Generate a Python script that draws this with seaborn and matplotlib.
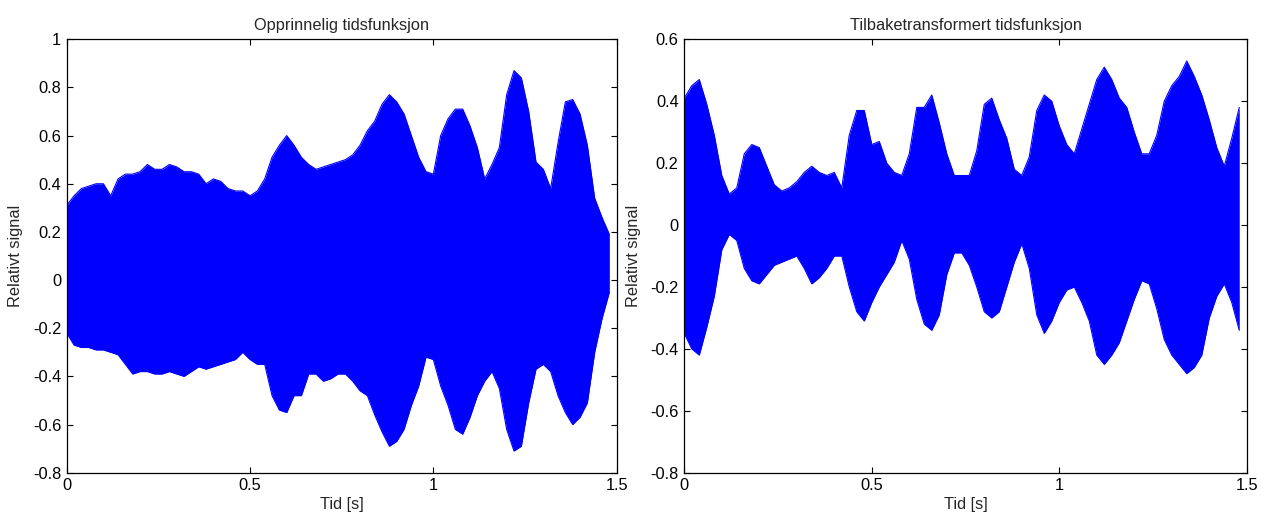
import matplotlib
matplotlib.use("Agg")
import matplotlib.pyplot as plt
import numpy as np
import pandas as pd
import seaborn as sns

# Envelope of the two signals, every 0.02 s (0 .. 1.48 s).
time_s = np.round(np.arange(75) * 0.02, 2)

orig_upper = [0.31, 0.35, 0.38, 0.39, 0.40, 0.40, 0.35, 0.42, 0.44, 0.44,
              0.45, 0.48, 0.46, 0.46, 0.48, 0.47, 0.45, 0.45, 0.44, 0.40,
              0.42, 0.41, 0.38, 0.37, 0.37, 0.35, 0.37, 0.42, 0.51, 0.56,
              0.60, 0.56, 0.51, 0.48, 0.46, 0.47, 0.48, 0.49, 0.50, 0.52,
              0.56, 0.62, 0.66, 0.73, 0.77, 0.74, 0.69, 0.60, 0.51, 0.45,
              0.44, 0.60, 0.67, 0.71, 0.71, 0.64, 0.55, 0.42, 0.48, 0.55,
              0.77, 0.87, 0.84, 0.70, 0.49, 0.46, 0.38, 0.57, 0.74, 0.75,
              0.69, 0.56, 0.34, 0.26, 0.19]
orig_lower = [-0.22, -0.27, -0.28, -0.28, -0.29, -0.29, -0.30, -0.31, -0.35, -0.39,
              -0.38, -0.38, -0.39, -0.39, -0.38, -0.39, -0.40, -0.38, -0.36, -0.37,
              -0.36, -0.35, -0.34, -0.33, -0.30, -0.33, -0.35, -0.35, -0.48, -0.54,
              -0.55, -0.48, -0.48, -0.39, -0.39, -0.42, -0.41, -0.39, -0.39, -0.42,
              -0.46, -0.48, -0.56, -0.63, -0.69, -0.67, -0.62, -0.52, -0.44, -0.32,
              -0.33, -0.44, -0.52, -0.62, -0.64, -0.57, -0.48, -0.42, -0.38, -0.45,
              -0.62, -0.71, -0.69, -0.51, -0.37, -0.35, -0.38, -0.48, -0.55, -0.60,
              -0.57, -0.51, -0.30, -0.16, -0.05]

back_upper = [0.41, 0.45, 0.47, 0.39, 0.29, 0.16, 0.10, 0.12, 0.23, 0.26,
              0.25, 0.19, 0.13, 0.11, 0.12, 0.14, 0.17, 0.19, 0.17, 0.16,
              0.17, 0.12, 0.29, 0.37, 0.37, 0.26, 0.27, 0.20, 0.17, 0.16,
              0.23, 0.38, 0.38, 0.42, 0.33, 0.23, 0.16, 0.16, 0.16, 0.24,
              0.39, 0.41, 0.34, 0.28, 0.18, 0.16, 0.22, 0.37, 0.42, 0.40,
              0.32, 0.26, 0.23, 0.31, 0.39, 0.47, 0.51, 0.47, 0.41, 0.38,
              0.30, 0.23, 0.23, 0.29, 0.40, 0.45, 0.48, 0.53, 0.48, 0.42,
              0.34, 0.25, 0.19, 0.28, 0.38]
back_lower = [-0.35, -0.40, -0.42, -0.33, -0.23, -0.08, -0.03, -0.05, -0.14, -0.18,
              -0.19, -0.16, -0.13, -0.12, -0.11, -0.10, -0.14, -0.19, -0.17, -0.14,
              -0.10, -0.10, -0.20, -0.28, -0.31, -0.25, -0.20, -0.16, -0.12, -0.05,
              -0.11, -0.24, -0.32, -0.34, -0.29, -0.16, -0.09, -0.09, -0.13, -0.20,
              -0.28, -0.30, -0.28, -0.20, -0.12, -0.06, -0.14, -0.29, -0.35, -0.31,
              -0.25, -0.21, -0.20, -0.25, -0.31, -0.42, -0.45, -0.42, -0.38, -0.31,
              -0.24, -0.18, -0.19, -0.27, -0.37, -0.42, -0.45, -0.48, -0.46, -0.42,
              -0.30, -0.23, -0.19, -0.25, -0.34]

titles = ["Opprinnelig tidsfunksjon", "Tilbaketransformert tidsfunksjon"]
y_limits = [(-0.8, 1.0), (-0.8, 0.6)]

sns.set_theme(style="ticks")
plt.rcParams["font.family"] = ["Liberation Sans", "DejaVu Sans"]
plt.rcParams["axes.unicode_minus"] = False

signals = [
    pd.DataFrame({"t": time_s, "upper": orig_upper, "lower": orig_lower}),
    pd.DataFrame({"t": time_s, "upper": back_upper, "lower": back_lower}),
]

fig = plt.figure(figsize=(12.66, 5.17), dpi=100)
axes = [
    fig.add_axes([0.0527, 0.0857, 0.4344, 0.8383]),
    fig.add_axes([0.5405, 0.0857, 0.4443, 0.8383]),
]

blue = (0.0, 0.0, 1.0)
for ax, df, title, ylim in zip(axes, signals, titles, y_limits):
    ax.fill_between(df["t"], df["lower"], df["upper"], color=blue, linewidth=0)
    sns.lineplot(data=df, x="t", y="upper", ax=ax, color=blue, linewidth=0.8)
    sns.lineplot(data=df, x="t", y="lower", ax=ax, color=blue, linewidth=0.8)

    ax.set_xlim(0, 1.5)
    ax.set_ylim(*ylim)
    ax.set_xticks([0, 0.5, 1, 1.5])
    ax.set_xticklabels(["0", "0.5", "1", "1.5"])
    yt = np.round(np.arange(ylim[0], ylim[1] + 0.01, 0.2), 1) + 0.0
    ax.set_yticks(yt)
    ax.set_yticklabels(["0" if abs(v) < 1e-9 else f"{v:g}" for v in yt])
    ax.tick_params(direction="in", length=4.3, width=0.8, labelsize=11.8,
                   top=True, right=True, colors="black", pad=4)
    for sp in ax.spines.values():
        sp.set_visible(True)
        sp.set_linewidth(0.9)
        sp.set_color("black")
    ax.set_title(title, fontsize=11.8, pad=7)
    ax.set_xlabel("Tid [s]", fontsize=11.8, labelpad=3)
    ax.set_ylabel("Relativt signal", fontsize=11.8, labelpad=7)

fig.savefig("out.png", dpi=100)
